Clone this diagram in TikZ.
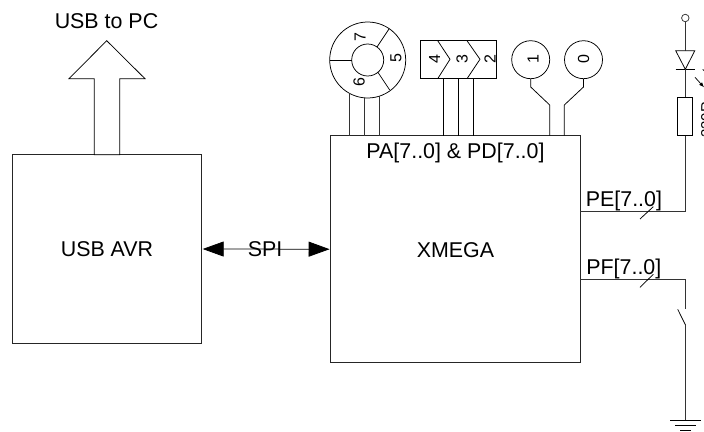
\documentclass[tikz,border=0pt]{standalone}
\usepackage{fontspec}
\setmainfont{Liberation Sans}
\usetikzlibrary{arrows.meta}
\begin{document}
\begin{tikzpicture}[x=1pt,y=-1pt,line width=0.75pt,
  lbl/.style={inner sep=0pt,font=\fontsize{21.4}{24}\selectfont,anchor=base},
  rot/.style={inner sep=0pt,rotate=90,font=\fontsize{16}{18}\selectfont},
  wire/.style={draw=black!80},
  dot/.style={circle,draw=black!80,fill=white,minimum size=7.5pt,inner sep=0pt}]
\useasboundingbox (0,0) rectangle (704,431);
% boxes
\node[draw=black!85,minimum width=189pt,minimum height=188.6pt,inner sep=0pt] (avr) at (106.8,249) {};
\node[draw=black!85,minimum width=250pt,minimum height=227pt,inner sep=0pt] (xm) at (455,249.2) {};
\node[lbl] (avrt) at (107,256.7) {USB AVR};
\node[lbl] (xmt) at (455.5,257) {XMEGA};
\node[lbl] (pa) at (455.5,158) {PA[7..0] \& PD[7..0]};
\node[lbl] (usb) at (106.5,28) {USB to PC};
% big arrow
\draw[fill=white] (94.3,154.7) -- (94.3,78.7) -- (69,78.7) -- (106.7,40.7) -- (145,78.7) -- (119.7,78.7) -- (119.7,154.7) -- cycle;
% SPI
\node[lbl] (spi) at (265,256) {SPI};
\draw[shorten <=1pt,{Triangle[length=21pt,width=15pt]}-{Triangle[length=21pt,width=15pt]}] (avr.east) -- (xm.west);
% encoder
\coordinate (e) at (367.7,60);
\draw (e) circle (38pt);
\draw (e) circle (16pt);
\draw (e) ++(-38,0) -- ++(22,0);
\draw (e) ++(9.3,-13) -- ++(12,-18);
\draw (e) ++(10,12) -- ++(12,18);
\node[rot] (n7) at (360,37) {7};
\node[rot] (n5) at (396,58) {5};
\node[rot] (n6) at (359,82) {6};
\draw[wire] (349,93) -- (349,135.7);
\draw[wire] (364,97.8) -- (364,135.7);
\draw[wire] (379,96.4) -- (379,135.7);
% connector
\node[draw,minimum width=76pt,minimum height=38pt,inner sep=0pt] (sel) at (458.7,59.7) {};
\draw (437.7,40.7) -- (450,59.3) -- (437.7,78.7);
\draw (467,40.7) -- (480,59.3) -- (467,78.7);
\node[rot] (n4) at (434.5,59.3) {4};
\node[rot] (n3) at (462,59.3) {3};
\node[rot] (n2) at (490,59.3) {2};
\draw (443.3,78.7) -- (443.3,135.7);
\draw (458.7,78.7) -- (458.7,135.7);
\draw (473.7,78.7) -- (473.7,135.7);
% buttons
\node[draw,circle,minimum size=38pt,inner sep=0pt] (b1) at (530.7,59.7) {};
\node[draw,circle,minimum size=38pt,inner sep=0pt] (b0) at (583.5,59.7) {};
\node[rot] (n1) at (533,59.3) {1};
\node[rot] (n0) at (583.5,59.3) {0};
\draw (b1.south) -- (530.7,87) -- (549.7,105) -- (549.7,135.7);
\draw (b0.south) -- (583.5,87) -- (564.3,105) -- (564.3,135.7);
% LED
\node[dot] (top) at (685.3,18) {};
\coordinate (k) at (685.3,69.3);
\draw[wire] (top) -- (k);
\draw[fill=white] (675.7,50.7) -- (694.8,50.7) -- (685.3,69.3) -- cycle;
\draw (675.5,69.3) -- (695,69.3);
\draw[-{Latex[length=5pt,width=4pt]}] (695,77.3) -- (704,87.3);
\draw (702.7,69.3) -- (704.5,71);
\draw[wire] (k) -- (685.3,97.3);
\node[draw,fill=white,minimum width=15.4pt,minimum height=38.4pt,inner sep=0pt] (r) at (685,116.5) {};
\node[rot,font=\fontsize{15}{17}\selectfont] (rv) at (706.4,120) {330R};
% PE
\coordinate (pe) at (685.5,211.3);
\coordinate (pein) at (580,211.3);
\draw[wire] (685.5,135.7) -- (pe) -- (pein);
\node[lbl,anchor=base west] (pel) at (585.5,206.5) {PE[7..0]};
\draw (640,219) -- (653.3,206.7);
% PF
\coordinate (pf) at (685.5,279.3);
\coordinate (pfin) at (580,279.3);
\coordinate (sw) at (685.5,309.3);
\coordinate (swb) at (685.5,325);
\coordinate (g) at (685.5,420);
\node[lbl,anchor=base west] (pfl) at (586,274.5) {PF[7..0]};
\draw[wire] (pfin) -- (pf) -- (sw);
\draw (677.7,309.3) -- (swb);
\draw[wire] (swb) -- (g);
\draw (640,287.3) -- (653.3,274.3);
\draw (670,420) -- (701,420);
\draw (675,425) -- (696,425);
\draw (680,430) -- (691,430);
\end{tikzpicture}
\end{document}
